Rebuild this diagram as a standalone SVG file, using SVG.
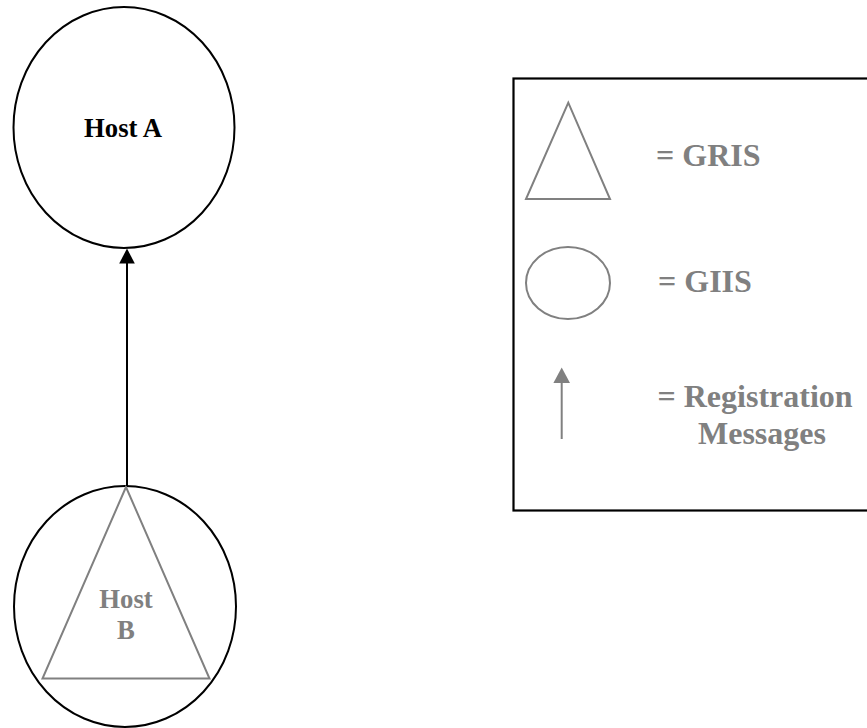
<svg xmlns="http://www.w3.org/2000/svg" width="867" height="728" viewBox="0 0 867 728">
  <style>
    .host { fill: none; stroke: #000; stroke-width: 2; }
    .gris { fill: none; stroke: #808080; stroke-width: 2; }
    .lbl { font-family: "Liberation Serif", "Times New Roman", serif; font-weight: bold; }
    .host-lbl { font-size: 26.7px; text-anchor: middle; }
    .key-lbl { font-size: 32px; fill: #808080; }
  </style>
  <defs>
    <marker id="arrow-black" viewBox="0 0 16 15" refX="8" refY="0" markerWidth="16" markerHeight="15" markerUnits="userSpaceOnUse" orient="auto-start-reverse">
      <path d="M0,15 L8,0 L16,15 Z" fill="#000"/>
    </marker>
  </defs>

  <rect width="867" height="728" fill="#fff"/>

  <!-- GIIS on Host A -->
  <g id="host-a">
    <ellipse class="host" cx="124" cy="127.5" rx="110.5" ry="120.5"/>
    <text class="lbl host-lbl" x="123" y="137">Host A</text>
  </g>

  <!-- GIIS on Host B with its GRIS inside -->
  <g id="host-b">
    <ellipse class="host" cx="125" cy="606.5" rx="111" ry="120.5"/>
    <polygon class="gris" points="126,487 42.5,678.5 209.5,678.5"/>
    <text class="lbl host-lbl" x="126" y="607.5" fill="#808080">Host</text>
    <text class="lbl host-lbl" x="126" y="638.5" fill="#808080">B</text>
  </g>

  <!-- registration path B -> A -->
  <g id="connectors">
    <path d="M127,486 L127,263" stroke="#000" stroke-width="2" fill="none"/>
    <path d="M119.2,263.5 L127,248.5 L134.8,263.5 Z" fill="#000"/>
  </g>

  <!-- key -->
  <g id="legend">
    <rect x="513.5" y="78.5" width="420" height="432" fill="none" stroke="#000" stroke-width="2.2"/>
    <polygon class="gris" points="568.3,102.7 526,199 610,199"/>
    <text class="lbl key-lbl" x="656" y="166">= GRIS</text>
    <ellipse class="gris" cx="568" cy="283" rx="42" ry="36"/>
    <text class="lbl key-lbl" x="658" y="291.5">= GIIS</text>
    <line x1="561.7" y1="439" x2="561.7" y2="382" stroke="#808080" stroke-width="2"/>
    <path d="M553.4,383 L561.7,367.5 L570,383 Z" fill="#808080"/>
    <text class="lbl key-lbl" x="657.5" y="406.5">= Registration</text>
    <text class="lbl key-lbl" x="698" y="444">Messages</text>
  </g>
</svg>
